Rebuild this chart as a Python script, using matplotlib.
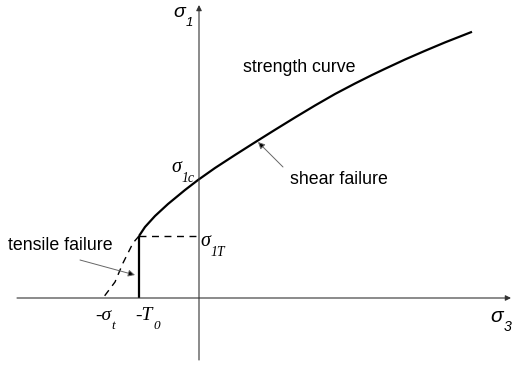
import matplotlib
matplotlib.use("Agg")
import matplotlib.pyplot as plt

plt.rcParams["font.family"] = ["Liberation Sans", "DejaVu Sans"]

# strength curve (sigma3, sigma1), from the tension cut-off upward
curve_s3 = [-60, -54, -44, -31, -14, -1, 16, 36, 53, 64, 76, 96, 116,
            136, 156, 173, 186, 206, 226, 246, 273]
curve_s1 = [62, 71, 82, 94, 108, 118, 130, 143, 153.8, 160.7, 168.2, 180.5,
            192.5, 204, 214.5, 223, 229.2, 238.5, 247.2, 255.6, 266.2]

# extension of the curve into tension (dashed)
tension_s3 = [-60, -66, -76, -84, -96]
tension_s1 = [62, 55, 35, 16, 0]

T0 = -60
sigma_1T = 62
sigma_1c = 118
sigma_t = -96

AXIS_COLOR = "#333333"
FONT_SIZE = 12.8
SANS = "Liberation Sans"
SERIF = "Liberation Serif"


def symbol(ax, x, y, main, sub, family, size):
    """Italic symbol with an italic subscript, baseline at (x, y)."""
    t = ax.text(x, y, main, family=family, style="italic", fontsize=size,
                ha="left", va="baseline")
    ax.annotate(sub, xy=(1, 0), xycoords=t, xytext=(0.5, -3.5),
                textcoords="offset points", family=family, style="italic",
                fontsize=size * 0.68, ha="left", va="baseline")


def main() -> None:
    fig = plt.figure(figsize=(5.12, 3.66), dpi=100)
    ax = fig.add_axes([0, 0, 1, 1])
    ax.set_xlim(-199, 313)
    ax.set_ylim(-68, 298)
    ax.axis("off")

    # coordinate axes with arrow heads
    arrow = dict(arrowstyle="-|>", lw=0.8, color=AXIS_COLOR, mutation_scale=8,
                 shrinkA=0, shrinkB=0)
    ax.annotate("", xy=(312, 0), xytext=(-182, 0), arrowprops=arrow)
    ax.annotate("", xy=(0, 293), xytext=(0, -62), arrowprops=arrow)

    ax.plot(curve_s3, curve_s1, color="black", lw=1.6, solid_capstyle="butt",
            solid_joinstyle="round")
    ax.plot([T0, T0], [0, sigma_1T], color="black", lw=1.6, solid_capstyle="butt")
    ax.plot(tension_s3, tension_s1, color="black", lw=1.0, ls=(0, (5, 4)))
    ax.plot([T0, -2], [sigma_1T, sigma_1T], color="black", lw=1.0, ls=(0, (5, 4)))

    ax.text(44, 230, "strength curve", fontsize=FONT_SIZE, ha="left", va="center")
    ax.text(91, 118, "shear failure", fontsize=FONT_SIZE, ha="left", va="center")
    ax.text(-191, 53, "tensile failure", fontsize=FONT_SIZE, ha="left", va="center")

    pointer = dict(arrowstyle="-|>", lw=0.7, edgecolor="#666666",
                   facecolor="black", mutation_scale=10, shrinkA=0, shrinkB=0)
    ax.annotate("", xy=(59, 156), xytext=(84, 131), arrowprops=pointer)
    ax.annotate("", xy=(-64, 23), xytext=(-119, 38), arrowprops=pointer)

    symbol(ax, -26, 281, "σ", "1", SANS, 14)
    symbol(ax, 291, -24, "σ", "3", SANS, 15)
    symbol(ax, -28, sigma_1c + 8, "σ", "1c", SERIF, 14.5)
    symbol(ax, 1, sigma_1T - 10, "σ", "1T", SERIF, 14.5)
    symbol(ax, sigma_t - 8, -22, "-σ", "t", SERIF, 14)
    symbol(ax, T0 - 4, -22, "-T", "0", SERIF, 14)

    fig.savefig("out.png", dpi=100)


if __name__ == "__main__":
    main()
